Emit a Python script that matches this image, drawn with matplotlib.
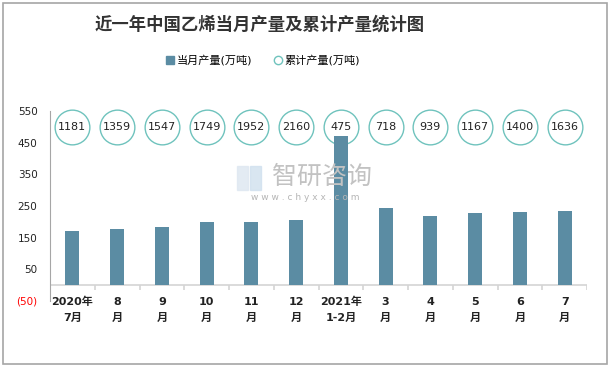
import matplotlib
matplotlib.use("Agg")
import matplotlib.pyplot as plt
from matplotlib.patches import Rectangle
from matplotlib.lines import Line2D

plt.rcParams['font.family'] = ['DejaVu Sans', 'Noto Sans CJK SC']

# data
months = ["2020年\n7月", "8\n月", "9\n月", "10\n月", "11\n月", "12\n月",
          "2021年\n1-2月", "3\n月", "4\n月", "5\n月", "6\n月", "7\n月"]
monthly = [171, 178, 185, 200, 198, 206, 472, 245, 220, 227, 232, 235]
cumulative = [1181, 1359, 1547, 1749, 1952, 2160, 475, 718, 939, 1167, 1400, 1636]
yticks = [550, 450, 350, 250, 150, 50, -50]
ytick_labels = ["550", "450", "350", "250", "150", "50", "(50)"]

bar_color = "#5b8ca3"
ring_color = "#6fc3bd"
W, H = 612, 368

fig = plt.figure(figsize=(W / 100, H / 100), dpi=100)
ax = fig.add_axes([50 / W, 1 - 301 / H, 537 / W, 190 / H])

x = list(range(len(months)))

# cumulative values shown as rings on a fixed row
ring_y = [500] * len(cumulative)
ax.plot(x, ring_y, linestyle="none", marker="o", markersize=25,
        markerfacecolor="white", markeredgecolor=ring_color, markeredgewidth=1,
        zorder=1.5, clip_on=False)
ax.bar(x, monthly, width=0.31, color=bar_color, zorder=2)
for xi, c in zip(x, cumulative):
    ax.text(xi, 500, str(c), ha="center", va="center", fontsize=8, color="#222222", zorder=4)

ax.set_xlim(-0.5, len(months) - 0.5)
ax.set_ylim(-50, 550)

# category axis at zero with small downward ticks
ax.axhline(0, color="#d4d4d4", lw=1.2, zorder=1)
bounds = [i - 0.5 for i in range(len(months) + 1)]
ax.vlines(bounds, -16, 0, color="#d4d4d4", lw=1.2)

ax.set_xticks(x, months)
ax.tick_params(axis="x", length=0, pad=-3, labelsize=8, colors="#222222")
for lab in ax.get_xticklabels():
    lab.set_fontweight("bold")
    lab.set_linespacing(1.75)

ax.set_yticks(yticks, ytick_labels)
ax.tick_params(axis="y", length=0, pad=9, labelsize=7.5, colors="#222222")
ax.get_yticklabels()[-1].set_color("red")

for s in ["top", "right", "bottom"]:
    ax.spines[s].set_visible(False)
ax.spines["left"].set_color("#a6a6a6")

# title and legend
fig.text(260 / W, 1 - 25 / H, "近一年中国乙烯当月产量及累计产量统计图",
         ha="center", va="center", fontsize=12.5, fontweight="bold", color="#333333")
handles = [
    Line2D([], [], linestyle="none", marker="s", markersize=6, color=bar_color),
    Line2D([], [], linestyle="none", marker="o", markersize=6,
           markerfacecolor="white", markeredgecolor=ring_color),
]
fig.legend(handles, ["当月产量(万吨)", "累计产量(万吨)"], loc="center",
           bbox_to_anchor=(262 / W, 1 - 60 / H), ncol=2, frameon=False,
           fontsize=8, handletextpad=0.1, columnspacing=1.8, handlelength=1)

# watermark
fig.patches.append(Rectangle((237 / W, 1 - 190 / H), 11 / W, 24 / H,
                             transform=fig.transFigure, color="#dde7f1", alpha=0.8))
fig.patches.append(Rectangle((250 / W, 1 - 190 / H), 11 / W, 24 / H,
                             transform=fig.transFigure, color="#d0e0ee", alpha=0.8))
fig.text(322 / W, 1 - 177 / H, "智研咨询", ha="center", va="center",
         fontsize=18, color="#c2c2c2")
fig.text(305 / W, 1 - 197 / H, "w w w . c h y x x . c o m", ha="center", va="center",
         fontsize=6.5, color="#b5b5b5")

# outer border
fig.patches.append(Rectangle((3 / W, 4 / H), 604 / W, 361 / H, transform=fig.transFigure,
                             fill=False, edgecolor="#a6a6a6", lw=1.2))

fig.savefig("out.png", dpi=100)
